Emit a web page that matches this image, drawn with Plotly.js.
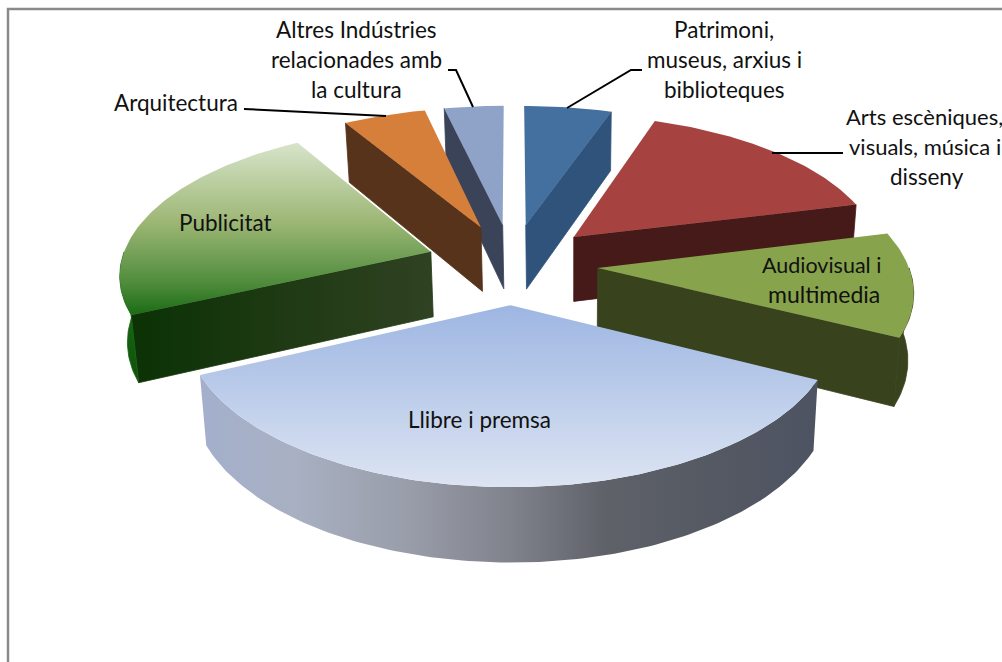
<!DOCTYPE html>
<html>
<head>
<meta charset="utf-8">
<script src="https://cdn.plot.ly/plotly-3.0.1.min.js"></script>
<style>html,body{margin:0;padding:0;background:#fff;overflow:hidden}#chart{width:1002px;height:662px}</style>
</head>
<body>
<div id="chart"></div>
<script>
// Data (share of the whole, %)
const categories = ["Patrimoni, museus, arxius i biblioteques", "Arts escèniques, visuals, música i disseny", "Audiovisual i multimedia", "Llibre i premsa", "Publicitat", "Arquitectura", "Altres Indústries relacionades amb la cultura"];
const shareValues = [5.3, 15.8, 11.3, 35.7, 23.3, 5.0, 3.6];
const paintOrder = [0, 6, 5, 1, 4, 2, 3];

// Label lines: text, centre x, centre y, font size
const labelLines = [
  ["Altres Indústries", 356, 29, 22.5], ["relacionades amb", 356, 59, 22.5], ["la cultura", 356, 89, 22.5],
  ["Patrimoni,", 724, 29, 22.5], ["museus, arxius i", 724, 59, 22.5], ["biblioteques", 724, 89, 22.5],
  ["Arts escèniques,", 924, 116, 22], ["visuals, música i", 924.5, 146, 22], ["disseny", 926.5, 176, 22.5],
  ["Audiovisual i", 821, 265, 21.5], ["multimedia", 823.5, 294, 23],
  ["Arquitectura", 176, 102, 22.5], ["Publicitat", 225.5, 222, 22.5], ["Llibre i premsa", 479, 419, 22.5]
];
const leaderLines = [
  [[448, 456, 473], [70, 70, 107]],
  [[244, 386], [109, 116]],
  [[642, 631, 567], [70, 70, 108]],
  [[843, 772], [153, 153]]
];

// Styles per category
const topFills = [
  {c: "#44709F"}, {c: "#A64340"}, {c: "#87A34B"},
  {g: {type: "vertical", start: 305, stop: 490, colorscale: [[0, "#9DB6E2"], [1, "#DEE5F3"]]}},
  {g: {type: "vertical", start: 143, stop: 318, colorscale: [[0, "#D8E4CB"], [0.45, "#9DB775"], [0.8, "#4F8C3C"], [1, "#15690F"]]}},
  {c: "#D67F3A"}, {c: "#8FA3C9"}
];
const wallFills = [
  {c: "#30537C"}, {c: "#451A18"}, {c: "#38421C"},
  {g: {type: "horizontal", start: 200, stop: 820, colorscale: [[0, "#A3AFCC"], [0.15, "#A8B0C2"], [0.33, "#9A9EAB"], [0.5, "#80838C"], [0.65, "#5F6269"], [0.8, "#565A63"], [1, "#4D5362"]]}},
  {g: {type: "horizontal", start: 139, stop: 434, colorscale: [[0, "#0C3206"], [0.5, "#1F3A14"], [1, "#304222"]]}, edge: "#1F3A14"},
  {c: "#56331A"}, {c: "#3A4358"}
];
const rimFills = [
  {c: "#30537C"}, {c: "#451A18"}, {c: "#38421C"}, wallFills[3],
  {g: {type: "vertical", start: 270, stop: 385, colorscale: [[0, "#1E7516"], [1, "#0E4F0A"]]}, edge: "#166210"},
  {c: "#56331A"}, {c: "#3A4358"}
];

// Projection of the tilted pie
const cx = 512, cy = 263.5, A = 310, B = 145, H = 65.5, K = 0.135, D = 0.277, S = 0.983;
const rad = d => d * Math.PI / 180;
function project(u, v, low) {
  const w = 1 / (1 - K * v), s = low ? S : 1;
  return [cx + (low ? 1 : 0) + A * u * w * s, cy + (B * v * s + (low ? H : 0)) * w];
}
function pt(angle, r, mid, low) {
  return project(Math.sin(rad(mid)) * D + r * Math.sin(rad(angle)),
                 -Math.cos(rad(mid)) * D - r * Math.cos(rad(angle)), low);
}
function poly(points, fill, name, seam) {
  const edge = fill.c || fill.edge;
  const t = {
    type: "scatter", mode: "lines", name: name,
    x: points.map(p => p[0]), y: points.map(p => p[1]),
    fill: "toself", hoverinfo: "skip", showlegend: false,
    line: (seam && edge) ? {width: 0.8, color: edge} : {width: 0}
  };
  if (fill.g) { t.fillgradient = fill.g; t.fillcolor = "rgba(0,0,0,0)"; } else { t.fillcolor = fill.c; }
  return t;
}

// Slice angles from the values (clockwise from 12 o'clock)
const total = shareValues.reduce((a, b) => a + b, 0);
const spans = [];
let running = 0;
shareValues.forEach(v => { const a1 = running; running += v / total * 360; spans.push([a1, running]); });

const traces = [];
paintOrder.forEach(i => {
  const [a1, a2] = spans[i], mid = (a1 + a2) / 2, name = categories[i];
  if (Math.sin(rad(a1)) < 0) {
    traces.push(poly([pt(a1, 0, mid), pt(a1, 1, mid), pt(a1, 1, mid, true), pt(a1, 0, mid, true), pt(a1, 0, mid)], wallFills[i], name, true));
  }
  if (Math.sin(rad(a2)) > 0) {
    traces.push(poly([pt(a2, 0, mid), pt(a2, 1, mid), pt(a2, 1, mid, true), pt(a2, 0, mid, true), pt(a2, 0, mid)], wallFills[i], name, true));
  }
  const r1 = Math.max(a1, 90), r2 = Math.min(a2, 270);
  if (r2 > r1) {
    const up = [], down = [];
    for (let a = r1; a < r2; a += 1) { up.push(pt(a, 1, mid)); down.unshift(pt(a, 1, mid, true)); }
    up.push(pt(r2, 1, mid)); down.unshift(pt(r2, 1, mid, true));
    traces.push(poly(up.concat(down, [up[0]]), rimFills[i], name, true));
  }
  const top = [pt(a1, 0, mid)];
  for (let a = a1; a < a2; a += 1) top.push(pt(a, 1, mid));
  top.push(pt(a2, 1, mid), pt(a1, 0, mid));
  traces.push(poly(top, topFills[i], name, false));
});

leaderLines.forEach(l => traces.push({
  type: "scatter", mode: "lines", x: l[0], y: l[1],
  line: {color: "#000", width: 2}, hoverinfo: "skip", showlegend: false
}));

const annotations = labelLines.map(l => ({
  text: l[0], x: l[1], y: l[2], xref: "x", yref: "y", xanchor: "center", yanchor: "middle",
  showarrow: false, font: {family: "Lato, 'Noto Sans', sans-serif", size: l[3], color: "#111"}
}));

Plotly.newPlot("chart", traces, {
  width: 1002, height: 662,
  margin: {l: 0, r: 0, t: 0, b: 0},
  paper_bgcolor: "#fff", plot_bgcolor: "#fff",
  showlegend: false, hovermode: false,
  xaxis: {range: [0, 1002], visible: false, fixedrange: true},
  yaxis: {range: [662, 0], visible: false, fixedrange: true},
  shapes: [{type: "path", path: "M8,662 L8,9 L1002,9", line: {color: "#8A8A8A", width: 2.5}, xref: "x", yref: "y"}],
  annotations: annotations
}, {staticPlot: true, displayModeBar: false});
</script>
</body>
</html>
